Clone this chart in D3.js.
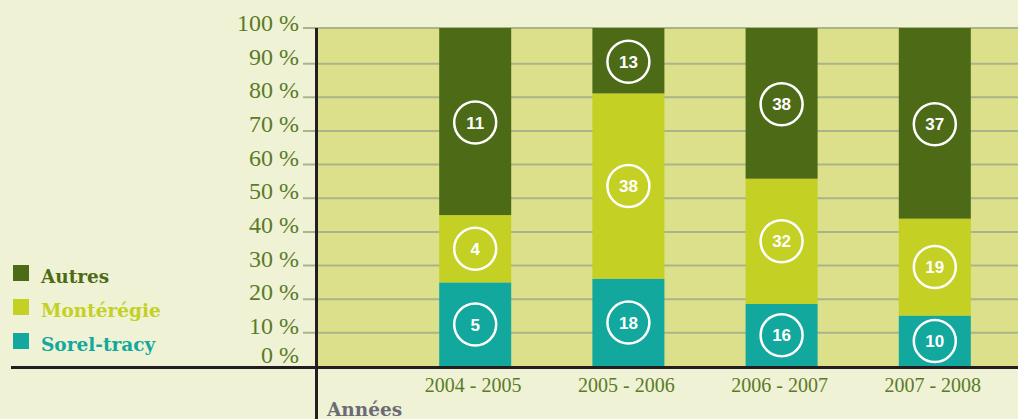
<!DOCTYPE html>
<html>
<head>
<meta charset="utf-8">
<script src="https://cdn.jsdelivr.net/npm/d3@7"></script>
<style>
  html, body { margin: 0; padding: 0; background: #eff2d5; }
  svg { display: block; }
</style>
</head>
<body>
<svg id="chart" width="1018" height="419"></svg>
<script>
// ---- Data ----
const years = ["2004 - 2005", "2005 - 2006", "2006 - 2007", "2007 - 2008"];
const seriesNames = ["Sorel-tracy", "Montérégie", "Autres"];
const sorelTracy = [5, 18, 16, 10];
const monteregie = [4, 38, 32, 19];
const autres = [11, 13, 38, 37];
const yTickValues = [0, 10, 20, 30, 40, 50, 60, 70, 80, 90, 100];
const xAxisTitle = "Années";

// ---- Styles ----
const colors = { "Sorel-tracy": "#12a89d", "Montérégie": "#c4d024", "Autres": "#4d6b17" };
const textGreen = "#5b7b27";

const svg = d3.select("#chart");
const W = 1018, H = 419;

const plotLeft = 318, plotRight = 1018, plotTop = 28, plotBottom = 366;

const x = d3.scaleBand().domain(years).range([358, 1052]).paddingInner(0.53).paddingOuter(0.53);
const y = d3.scaleLinear().domain([0, 100]).range([366.5, 30]);

// Build stacked percentage data
const rows = years.map((yr, i) => {
  const total = sorelTracy[i] + monteregie[i] + autres[i];
  return {
    year: yr,
    "Sorel-tracy": sorelTracy[i] / total * 100,
    "Montérégie": monteregie[i] / total * 100,
    "Autres": autres[i] / total * 100,
    counts: { "Sorel-tracy": sorelTracy[i], "Montérégie": monteregie[i], "Autres": autres[i] }
  };
});
const stack = d3.stack().keys(seriesNames);
const stacked = stack(rows);

// Plot background
svg.append("rect")
  .attr("x", plotLeft).attr("y", plotTop)
  .attr("width", plotRight - plotLeft).attr("height", plotBottom - plotTop)
  .attr("fill", "#dce08a");

// Gridlines
svg.append("g")
  .selectAll("line")
  .data(yTickValues.filter(v => v > 0))
  .join("line")
  .attr("x1", 303).attr("x2", W)
  .attr("y1", d => d === 100 ? plotTop : y(d))
  .attr("y2", d => d === 100 ? plotTop : y(d))
  .attr("stroke", "#a9b48c")
  .attr("stroke-width", 2);

// Y tick labels
svg.append("g")
  .selectAll("text")
  .data(yTickValues)
  .join("text")
  .attr("x", 299)
  .attr("y", d => y(d) + 1 - (d === 0 ? 5 : 0))
  .attr("text-anchor", "end")
  .attr("font-family", "'Liberation Serif', 'Times New Roman', serif")
  .attr("font-size", 24)
  .attr("fill", textGreen)
  .text(d => d + " %");

// Bars
const layers = svg.append("g")
  .selectAll("g")
  .data(stacked)
  .join("g")
  .attr("fill", d => colors[d.key]);

layers.selectAll("rect")
  .data(d => d)
  .join("rect")
  .attr("x", d => x(d.data.year))
  .attr("width", x.bandwidth())
  .attr("y", d => Math.max(plotTop, y(d[1]) - (d[1] >= 99.999 ? 2 : 0)))
  .attr("height", d => y(d[0]) - Math.max(plotTop, y(d[1]) - (d[1] >= 99.999 ? 2 : 0)));

// Circle labels
const labelGroups = svg.append("g");
stacked.forEach(layer => {
  layer.forEach(d => {
    const cx = x(d.data.year) + x.bandwidth() / 2;
    const cy = y((d[0] + d[1]) / 2);
    const g = labelGroups.append("g").attr("transform", `translate(${cx},${cy})`);
    g.append("circle")
      .attr("r", 21)
      .attr("fill", "none")
      .attr("stroke", "#ffffff")
      .attr("stroke-width", 2.5);
    g.append("text")
      .attr("text-anchor", "middle")
      .attr("dy", "0.36em")
      .attr("font-family", "'Liberation Sans', Arial, sans-serif")
      .attr("font-weight", "bold")
      .attr("font-size", 17)
      .attr("fill", "#ffffff")
      .text(d.data.counts[layer.key]);
  });
});

// Axes lines
svg.append("line")
  .attr("x1", 316.5).attr("x2", 316.5)
  .attr("y1", plotTop).attr("y2", H)
  .attr("stroke", "#231f20").attr("stroke-width", 3);
svg.append("line")
  .attr("x1", 11).attr("x2", W)
  .attr("y1", 367.5).attr("y2", 367.5)
  .attr("stroke", "#231f20").attr("stroke-width", 3);

// X labels
svg.append("g")
  .selectAll("text")
  .data(years)
  .join("text")
  .attr("x", d => x(d) + x.bandwidth() / 2 - 2)
  .attr("y", 392)
  .attr("text-anchor", "middle")
  .attr("font-family", "'Liberation Serif', 'Times New Roman', serif")
  .attr("font-size", 20)
  .attr("fill", textGreen)
  .text(d => d);

// X axis title
svg.append("text")
  .attr("x", 327)
  .attr("y", 416)
  .attr("font-family", "'DejaVu Serif', Georgia, serif")
  .attr("font-weight", "bold")
  .attr("font-size", 18.5)
  .attr("fill", "#6b6b75")
  .text(xAxisTitle);

// Legend
const legendItems = ["Autres", "Montérégie", "Sorel-tracy"];
const legend = svg.append("g")
  .selectAll("g")
  .data(legendItems)
  .join("g")
  .attr("transform", (d, i) => `translate(13, ${265 + i * 34})`);
legend.append("rect")
  .attr("width", 16).attr("height", 16)
  .attr("fill", d => colors[d]);
legend.append("text")
  .attr("x", 28).attr("y", 18)
  .attr("font-family", "'DejaVu Serif', Georgia, serif")
  .attr("font-weight", "bold")
  .attr("font-size", 18.5)
  .attr("fill", d => colors[d])
  .text(d => d);
</script>
</body>
</html>
